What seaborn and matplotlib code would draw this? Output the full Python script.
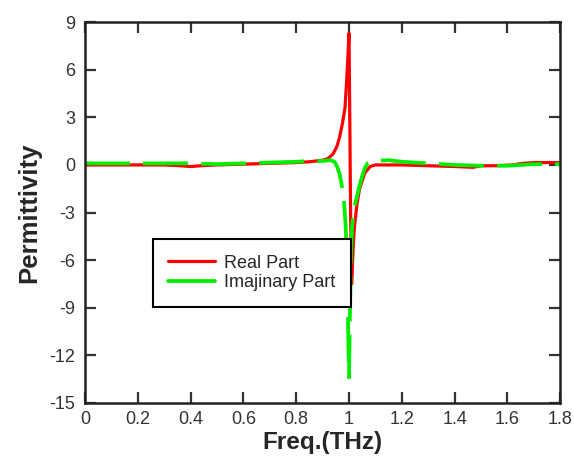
import matplotlib
matplotlib.use('Agg')
import matplotlib.pyplot as plt
import pandas as pd
import seaborn as sns

# values
freq_real = [0.0, 0.1, 0.2, 0.3, 0.36, 0.4, 0.44, 0.5, 0.6, 0.7, 0.8, 0.85, 0.9,
             0.92, 0.94, 0.955, 0.965, 0.975, 0.985, 0.99, 0.995, 1.0, 1.003,
             1.006, 1.01, 1.015, 1.02, 1.03, 1.04, 1.06, 1.08, 1.1, 1.2, 1.3,
             1.4, 1.47, 1.5, 1.55, 1.62, 1.66, 1.7, 1.8]
eps_real = [0.0, 0.0, 0.0, 0.0, -0.05, -0.1, -0.05, 0.0, 0.05, 0.1, 0.15, 0.2, 0.3,
            0.4, 0.7, 1.2, 1.8, 2.6, 3.6, 5.0, 6.5, 8.3, 3.0,
            -3.0, -7.5, -5.5, -4.0, -2.5, -1.5, -0.5, -0.1, 0.0, 0.0, -0.05,
            -0.1, -0.15, -0.05, -0.05, 0.0, 0.1, 0.15, 0.15]

freq_imag = [0.0, 0.1, 0.2, 0.3, 0.4, 0.5, 0.6, 0.7, 0.8, 0.85, 0.9, 0.93,
             0.945, 0.955, 0.965, 0.975, 0.982, 0.988, 0.993, 0.997, 1.0, 1.004,
             1.008, 1.012, 1.02, 1.03, 1.04, 1.05, 1.06, 1.07, 1.09, 1.15, 1.2,
             1.3, 1.4, 1.5, 1.6, 1.7, 1.8]
eps_imag = [0.1, 0.1, 0.1, 0.1, 0.1, 0.05, 0.1, 0.15, 0.2, 0.25, 0.25, 0.3,
            0.2, -0.1, -0.6, -1.5, -2.5, -4.0, -7.0, -10.5, -13.4, -9.0,
            -5.5, -3.8, -2.7, -2.0, -1.3, -0.7, -0.2, 0.1, 0.25, 0.3, 0.2,
            0.1, 0.0, -0.05, -0.05, 0.05, 0.05]

x_ticks = [0, 0.2, 0.4, 0.6, 0.8, 1, 1.2, 1.4, 1.6, 1.8]
x_tick_labels = ['0', '0.2', '0.4', '0.6', '0.8', '1', '1.2', '1.4', '1.6', '1.8']
y_ticks = [-15, -12, -9, -6, -3, 0, 3, 6, 9]

df_real = pd.DataFrame({'freq': freq_real, 'eps': eps_real})
df_imag = pd.DataFrame({'freq': freq_imag, 'eps': eps_imag})

sns.set_style('ticks')
plt.rcParams['font.family'] = ['Liberation Sans', 'DejaVu Sans']
plt.rcParams['axes.unicode_minus'] = False

fig = plt.figure(figsize=(5.74, 4.63), dpi=100)
ax = fig.add_axes([0.148, 0.130, 0.828, 0.822])

sns.lineplot(data=df_real, x='freq', y='eps', ax=ax, color='#ff0000',
             linewidth=2.3, label='Real Part', sort=False)
sns.lineplot(data=df_imag, x='freq', y='eps', ax=ax, color='#00ee00',
             linewidth=2.7, label='Imajinary Part', sort=False)
ax.lines[1].set_dashes([12, 3.5])

ax.set_xlim(0, 1.8)
ax.set_ylim(-15, 9)
ax.set_xticks(x_ticks)
ax.set_xticklabels(x_tick_labels)
ax.set_yticks(y_ticks)
ax.tick_params(direction='in', length=8, width=1.6, top=True, right=True,
               labeltop=False, labelright=False, labelsize=13, colors='#333333',
               pad=6)
ax.tick_params(axis='y', pad=7)
for sp in ax.spines.values():
    sp.set_linewidth(1.8)
    sp.set_color('#222222')

ax.set_xlabel('Freq.(THz)', fontsize=17.5, fontweight='bold', labelpad=2)
ax.set_ylabel('Permittivity', fontsize=18.5, fontweight='bold', labelpad=6)

leg = ax.legend(loc='upper left', bbox_to_anchor=(0.143, 0.430), fontsize=13,
                frameon=True, fancybox=False, framealpha=1, edgecolor='black',
                borderaxespad=0, handlelength=2.6, handletextpad=0.5,
                borderpad=0.85, labelspacing=0.15)
leg.get_frame().set_linewidth(1.5)
leg.get_lines()[1].set_linestyle('-')

fig.savefig('out.png', dpi=100)
